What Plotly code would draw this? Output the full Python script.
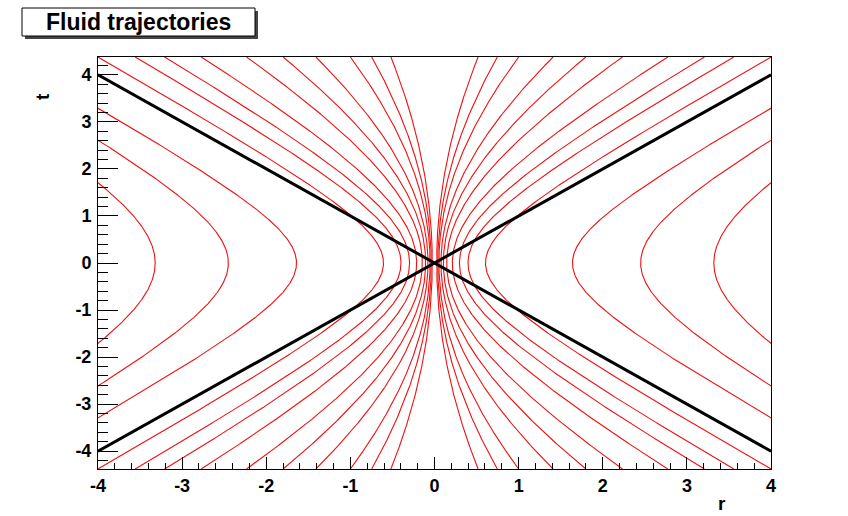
import numpy as np
import plotly.graph_objects as go

# ---- data ----
# radius at t=0 of each fluid trajectory (mirrored to negative r as well)
inner_r0 = [0.026, 0.038, 0.052, 0.077, 0.105, 0.144, 0.212, 0.296, 0.398, 0.606]
outer_r0 = [1.64, 2.45, 3.32]
# light-cone lines r = +/- t
cone_r = [-4, 4]
cone_t = [-4, 4]

x_range = [-4, 4]
y_range = [-4.38, 4.38]
x_ticks = [-4, -3, -2, -1, 0, 1, 2, 3, 4]
y_ticks = [-4, -3, -2, -1, 0, 1, 2, 3, 4]
x_ticklabels = ["-4", "-3", "-2", "-1", "0", "1", "2", "3", "4"]
y_ticklabels = ["-4", "-3", "-2", "-1", "0", "1", "2", "3", "4"]

title_text = "Fluid trajectories"

# ---- trajectories: flow lines r^2 - t^2 + 2 A r = 1 through (r0, 0) ----
t = np.linspace(y_range[0], y_range[1], 1201)
xs, ys = [], []
for r0 in inner_r0 + outer_r0:
    A = (1.0 - r0 * r0) / (2.0 * r0)
    r = -A + np.sqrt(A * A + 1.0 + t * t)
    for s in (1, -1):
        xs += list(s * r) + [None]
        ys += list(t) + [None]

fig = go.Figure()
fig.add_trace(go.Scatter(x=xs, y=ys, mode="lines",
                         line=dict(color="#f01010", width=1.1), hoverinfo="skip",
                         showlegend=False))
fig.add_trace(go.Scatter(x=cone_r, y=cone_t, mode="lines",
                         line=dict(color="black", width=3), showlegend=False))
fig.add_trace(go.Scatter(x=cone_r, y=[-v for v in cone_t], mode="lines",
                         line=dict(color="black", width=3), showlegend=False))

L, R, T, B = 98, 771, 57, 469
W, H = R - L, B - T


def px(p):
    return (p - L) / W


def py(p):
    return (B - p) / H


font_family = "Liberation Sans, Arial, Helvetica, sans-serif"
tickfont = dict(family=font_family, size=18, color="black", weight="bold")

axis_common = dict(showline=True, mirror=True, linecolor="black", linewidth=1,
                   showgrid=False, zeroline=False, ticks="inside",
                   tickcolor="black", tickwidth=1, tickfont=tickfont)

fig.update_xaxes(range=x_range, tickvals=x_ticks, ticktext=x_ticklabels, ticklen=12,
                 minor=dict(ticks="inside", ticklen=6, dtick=0.2, tickcolor="black",
                            showgrid=False),
                 **axis_common)
fig.update_yaxes(range=y_range, tickvals=y_ticks, ticktext=y_ticklabels, ticklen=20,
                 minor=dict(ticks="inside", ticklen=10, dtick=0.2, tickcolor="black",
                            showgrid=False),
                 ticklabelstandoff=2,
                 **axis_common)

shapes = [
    # title box shadow
    dict(type="rect", xref="paper", yref="paper",
         x0=px(25), x1=px(258), y0=py(39), y1=py(11),
         fillcolor="#444444", line=dict(width=0), layer="above"),
    # title box
    dict(type="rect", xref="paper", yref="paper",
         x0=px(22), x1=px(255), y0=py(36), y1=py(8),
         fillcolor="white", line=dict(color="black", width=1), layer="above"),
]

annotations = [
    dict(text=title_text, xref="paper", yref="paper", x=px(138), y=py(22),
         xanchor="center", yanchor="middle", showarrow=False,
         font=dict(family=font_family, size=23, color="black", weight="bold")),
    dict(text="r", xref="paper", yref="paper", x=px(722), y=py(503),
         xanchor="center", yanchor="middle", showarrow=False,
         font=dict(family=font_family, size=19, color="black", weight="bold")),
    dict(text="t", xref="paper", yref="paper", x=px(43), y=py(97),
         xanchor="center", yanchor="middle", showarrow=False, textangle=-90,
         font=dict(family=font_family, size=19, color="black", weight="bold")),
]

fig.update_layout(width=848, height=516, autosize=False,
                  margin=dict(l=L, r=848 - R, t=T, b=516 - B, pad=0),
                  paper_bgcolor="white", plot_bgcolor="white",
                  shapes=shapes, annotations=annotations, showlegend=False)

fig.write_html("out.html")
